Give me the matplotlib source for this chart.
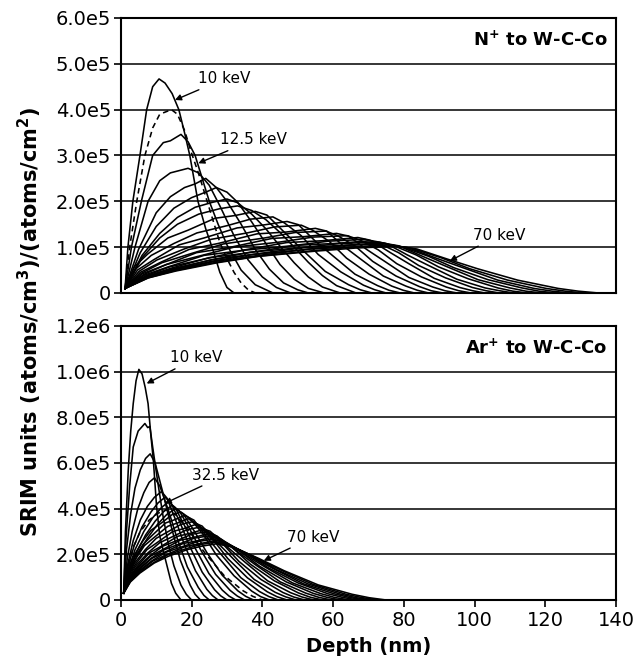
import numpy as np
import matplotlib.pyplot as plt

plt.rcParams['font.family'] = ['DejaVu Sans']
plt.rcParams['mathtext.fontset'] = 'dejavusans'

SCALE = 1e5

# ---- N+ to W-C-Co (values in 1e5 atoms/cm3 per atoms/cm2) ----
n_energy = [10, 12.5, 15, 17.5, 20, 22.5, 25, 27.5, 30, 32.5, 35, 37.5, 40,
            42.5, 45, 47.5, 50, 52.5, 55, 57.5, 60, 62.5, 65, 67.5, 70]
n_dashed = 12.5
n_depth = [
    [1.2, 2, 3.4, 5.4, 7.3, 9, 10.8, 12.5, 14.5, 16.4, 18, 19.5, 21.8, 24, 26, 28, 30, 32],
    [1.2, 2.5, 4.5, 6.8, 9, 11, 14.3, 16, 18, 20, 22, 24, 26, 28, 30, 32, 34, 36, 38],
    [1.2, 3, 5.8, 9, 12, 14, 17, 19, 21, 23, 25, 27.5, 30, 34, 38, 43],
    [1.2, 4, 7.7, 11, 14, 17, 19, 22, 25, 28, 32, 36, 40, 44, 48],
    [1.2, 5, 10, 14, 18, 21, 24, 27, 30, 34, 38, 42, 46, 50, 53],
    [1.2, 5.5, 10, 15, 20, 24, 27, 30, 33, 37, 41, 45, 49, 53, 57.5],
    [1.2, 6, 11, 16, 21, 26, 30, 33, 37, 41, 45, 49, 53, 57, 62],
    [1.2, 6, 11, 16, 22, 28, 33, 37, 41, 45, 49, 53, 57, 61, 66.5],
    [1.2, 3.8, 7.6, 13.3, 19, 26.6, 32.3, 38, 41.3, 46.3, 51.2, 57.8, 64.4, 67.7, 71],
    [1.2, 4.3, 8.6, 15, 21.5, 30.1, 36.6, 43, 46.2, 51, 55.8, 62.2, 68.6, 71.8, 75],
    [1.2, 4.7, 9.4, 16.5, 23.5, 32.9, 40, 47, 50.2, 55, 59.8, 66.2, 72.6, 75.8, 79],
    [1.2, 5.1, 10.2, 17.9, 25.5, 35.7, 43.4, 51, 54.2, 59, 63.8, 70.2, 76.6, 79.8, 83],
    [1.2, 5.5, 11, 19.3, 27.5, 38.5, 46.8, 55, 58.2, 63, 67.8, 74.2, 80.6, 83.8, 87],
    [1.2, 5.8, 11.6, 20.3, 29, 40.6, 49.3, 58, 61.3, 66.3, 71.2, 77.8, 84.4, 87.7, 91],
    [1.2, 6.1, 12.2, 21.4, 30.5, 42.7, 51.9, 61, 64.4, 69.5, 74.6, 81.4, 88.2, 91.6, 95],
    [1.2, 6.4, 12.8, 22.4, 32, 44.8, 54.4, 64, 67.5, 72.8, 78, 85, 92, 95.5, 99],
    [1.2, 6.7, 13.4, 23.5, 33.5, 46.9, 57, 67, 70.6, 76, 81.4, 88.6, 95.8, 99.4, 103],
    [1.2, 6.9, 13.8, 24.2, 34.5, 48.3, 58.7, 69, 72.8, 78.5, 84.2, 91.8, 99.4, 103.2, 107],
    [1.2, 7.1, 14.2, 24.9, 35.5, 49.7, 60.4, 71, 75, 81, 87, 95, 103, 107, 111],
    [1.2, 7.3, 14.6, 25.6, 36.5, 51.1, 62.1, 73, 77.2, 83.5, 89.8, 98.2, 106.6, 110.8, 115],
    [1.2, 7.4, 14.8, 25.9, 37, 51.8, 62.9, 74, 78.5, 85.3, 92, 101, 110, 114.5, 119],
    [1.2, 7.5, 15, 26.3, 37.5, 52.5, 63.8, 75, 79.8, 87, 94.2, 103.8, 113.4, 118.2, 123],
    [1.2, 7.6, 15.2, 26.6, 38, 53.2, 64.6, 76, 81.1, 88.8, 96.4, 106.6, 116.8, 121.9, 127],
    [1.2, 7.7, 15.4, 27, 38.5, 53.9, 65.5, 77, 82.4, 90.5, 98.6, 109.4, 120.2, 125.6, 131],
    [1.2, 7.8, 15.6, 27.3, 39, 54.6, 66.3, 78, 83.7, 92.3, 100.8, 112.2, 123.6, 129.3, 135],
]
n_value = [
    [0.1, 1.0, 2.0, 3.0, 4.0, 4.5, 4.67, 4.58, 4.35, 4.0, 3.5, 3.0, 2.0, 1.4, 0.95, 0.45, 0.12, 0],
    [0.1, 1.0, 2.0, 3.0, 3.6, 3.9, 4.0, 3.9, 3.55, 3.05, 2.6, 2.1, 1.6, 1.1, 0.75, 0.45, 0.22, 0.07, 0],
    [0.1, 1.0, 2.0, 3.0, 3.28, 3.32, 3.46, 3.3, 3.0, 2.5, 2.0, 1.5, 1.05, 0.5, 0.18, 0],
    [0.1, 1.0, 2.0, 2.45, 2.62, 2.68, 2.72, 2.62, 2.35, 1.9, 1.25, 0.72, 0.35, 0.12, 0],
    [0.1, 0.95, 1.75, 2.1, 2.3, 2.38, 2.5, 2.3, 2.0, 1.5, 0.95, 0.52, 0.22, 0.07, 0],
    [0.1, 0.88, 1.45, 1.85, 2.08, 2.2, 2.3, 2.2, 1.98, 1.55, 1.08, 0.62, 0.3, 0.1, 0],
    [0.1, 0.82, 1.3, 1.65, 1.87, 1.98, 2.05, 1.97, 1.72, 1.4, 1.02, 0.66, 0.35, 0.13, 0],
    [0.1, 0.77, 1.2, 1.5, 1.72, 1.84, 1.9, 1.8, 1.6, 1.32, 1.0, 0.67, 0.38, 0.16, 0],
    [0.1, 0.57, 0.85, 1.2, 1.37, 1.63, 1.69, 1.78, 1.7, 1.32, 0.95, 0.47, 0.18, 0.07, 0],
    [0.1, 0.53, 0.82, 1.08, 1.31, 1.47, 1.61, 1.66, 1.53, 1.25, 0.84, 0.46, 0.17, 0.07, 0],
    [0.1, 0.5, 0.73, 1.05, 1.2, 1.42, 1.48, 1.56, 1.49, 1.13, 0.82, 0.41, 0.16, 0.06, 0],
    [0.1, 0.47, 0.72, 0.96, 1.17, 1.31, 1.44, 1.48, 1.37, 1.12, 0.76, 0.41, 0.15, 0.06, 0],
    [0.1, 0.45, 0.66, 0.95, 1.08, 1.29, 1.33, 1.41, 1.35, 1.02, 0.74, 0.37, 0.15, 0.06, 0],
    [0.1, 0.43, 0.66, 0.87, 1.07, 1.2, 1.32, 1.35, 1.25, 1.02, 0.69, 0.37, 0.14, 0.05, 0],
    [0.1, 0.42, 0.6, 0.88, 0.99, 1.19, 1.23, 1.3, 1.24, 0.95, 0.69, 0.34, 0.13, 0.05, 0],
    [0.1, 0.4, 0.62, 0.81, 1.0, 1.11, 1.22, 1.25, 1.16, 0.94, 0.64, 0.35, 0.13, 0.05, 0],
    [0.1, 0.39, 0.57, 0.82, 0.92, 1.1, 1.14, 1.21, 1.15, 0.89, 0.64, 0.32, 0.12, 0.05, 0],
    [0.1, 0.37, 0.57, 0.75, 0.93, 1.03, 1.13, 1.17, 1.09, 0.88, 0.6, 0.33, 0.12, 0.05, 0],
    [0.1, 0.36, 0.54, 0.77, 0.87, 1.04, 1.08, 1.14, 1.08, 0.83, 0.6, 0.3, 0.11, 0.05, 0],
    [0.1, 0.36, 0.53, 0.72, 0.89, 0.99, 1.08, 1.11, 1.03, 0.83, 0.57, 0.31, 0.11, 0.04, 0],
    [0.1, 0.35, 0.52, 0.73, 0.84, 0.99, 1.04, 1.09, 1.03, 0.8, 0.58, 0.29, 0.11, 0.04, 0],
    [0.1, 0.34, 0.51, 0.7, 0.84, 0.95, 1.04, 1.07, 1.0, 0.8, 0.55, 0.29, 0.11, 0.04, 0],
    [0.1, 0.34, 0.5, 0.69, 0.81, 0.96, 1.0, 1.05, 0.99, 0.77, 0.56, 0.28, 0.1, 0.04, 0],
    [0.1, 0.33, 0.49, 0.67, 0.8, 0.92, 1.0, 1.03, 0.97, 0.77, 0.53, 0.28, 0.1, 0.04, 0],
    [0.1, 0.33, 0.48, 0.66, 0.8, 0.91, 0.98, 1.02, 0.96, 0.74, 0.53, 0.28, 0.1, 0.04, 0],
]

# ---- Ar+ to W-C-Co ----
ar_energy = n_energy
ar_dashed = 32.5
ar_depth = [
    [0.8, 1.3, 2.1, 2.8, 3.5, 4.3, 5.1, 6, 6.9, 7.7, 8.5, 9.2, 10.1, 11, 12.4, 14.3, 15.5, 17],
    [0.8, 1.5, 2.5, 3.5, 4.9, 6.8, 7.6, 8.2, 9, 10.5, 12, 13.5, 15, 17, 18.5, 20],
    [0.8, 1.6, 2.8, 4, 5.5, 7, 8.3, 9.7, 11.8, 14, 16.8, 19.6, 21, 22.5],
    [0.8, 1.8, 3.2, 4.8, 6.5, 8, 9.5, 11, 13.4, 15.7, 18.8, 21.9, 23.5, 25],
    [0.8, 2, 3.5, 5.5, 7.5, 9.5, 11.5, 13.1, 15.5, 17.9, 21.1, 24.3, 25.9, 27.5],
    [0.8, 2, 3.8, 6, 8.5, 10.5, 12.5, 14.25, 16.9, 19.5, 23, 26.5, 28.25, 30],
    [0.8, 2.2, 4, 6.5, 9, 11.5, 13.5, 15.4, 18.25, 21.1, 24.9, 28.7, 30.6, 32.5],
    [0.8, 2.3, 4.3, 7, 9.7, 12.3, 14.5, 16.55, 19.6, 22.7, 26.8, 30.9, 32.95, 35],
    [0.8, 2.4, 4.6, 7.5, 10.3, 13, 15.5, 17.7, 21, 24.3, 28.7, 33.1, 35.3, 37.5],
    [0.8, 1.8, 3.5, 5.5, 8, 10.5, 13, 15.7, 19.75, 23.8, 29.2, 34.6, 37.3, 40],
    [0.8, 1.7, 3.4, 6, 8.5, 11.9, 14.5, 17, 19.5, 23.25, 27, 32, 37, 39.5, 42],
    [0.8, 1.8, 3.6, 6.3, 9, 12.6, 15.3, 18, 20.65, 24.6, 28.6, 33.9, 39.2, 41.85, 44.5],
    [0.8, 1.9, 3.8, 6.65, 9.5, 13.3, 16.15, 19, 21.8, 26, 30.2, 35.8, 41.4, 44.2, 47],
    [0.8, 2, 4, 7, 10, 14, 17, 20, 22.95, 27.4, 31.8, 37.7, 43.6, 46.55, 49.5],
    [0.8, 2.1, 4.2, 7.35, 10.5, 14.7, 17.85, 21, 24.1, 28.75, 33.4, 39.6, 45.8, 48.9, 52],
    [0.8, 2.2, 4.4, 7.7, 11, 15.4, 18.7, 22, 25.25, 30.1, 35, 41.5, 48, 51.25, 54.5],
    [0.8, 2.3, 4.6, 8.05, 11.5, 16.1, 19.55, 23, 26.4, 31.5, 36.6, 43.4, 50.2, 53.6, 57],
    [0.8, 2.35, 4.7, 8.2, 11.75, 16.45, 20, 23.5, 27.1, 32.5, 37.9, 45.1, 52.3, 55.9, 59.5],
    [0.8, 2.4, 4.8, 8.4, 12, 16.8, 20.4, 24, 27.8, 33.5, 39.2, 46.8, 54.4, 58.2, 62],
    [0.8, 2.45, 4.9, 8.6, 12.25, 17.15, 20.8, 24.5, 28.5, 34.5, 40.5, 48.5, 56.5, 60.5, 64.5],
    [0.8, 2.5, 5, 8.75, 12.5, 17.5, 21.25, 25, 29.2, 35.5, 41.8, 50.2, 58.6, 62.8, 67],
    [0.8, 2.55, 5.1, 8.9, 12.75, 17.85, 21.7, 25.5, 29.85, 36.4, 42.9, 51.6, 60.3, 64.65, 69],
    [0.8, 2.6, 5.2, 9.1, 13, 18.2, 22.1, 26, 30.5, 37.25, 44, 53, 62, 66.5, 71],
    [0.8, 2.65, 5.3, 9.3, 13.25, 18.55, 22.5, 26.5, 31.15, 38.1, 45.1, 54.4, 63.7, 68.35, 73],
    [0.8, 2.7, 5.4, 9.45, 13.5, 18.9, 22.95, 27, 31.8, 39, 46.2, 55.8, 65.4, 70.2, 75],
]
ar_value = [
    [0.3, 3.0, 5.7, 7.4, 8.6, 9.6, 10.1, 9.9, 9.3, 8.6, 7.2, 6.1, 4.1, 2.8, 1.9, 0.73, 0.3, 0],
    [0.3, 2.8, 5.0, 6.7, 7.4, 7.73, 7.55, 7.6, 6.7, 5.1, 3.6, 2.4, 1.5, 0.65, 0.25, 0],
    [0.3, 2.2, 3.8, 4.9, 5.7, 6.2, 6.4, 6.0, 4.75, 3.35, 1.75, 0.65, 0.25, 0],
    [0.3, 1.8, 3.0, 4.0, 4.7, 5.15, 5.35, 5.0, 3.95, 2.8, 1.45, 0.55, 0.2, 0],
    [0.3, 1.6, 2.6, 3.5, 4.1, 4.5, 4.75, 4.45, 3.5, 2.45, 1.28, 0.47, 0.19, 0],
    [0.3, 1.45, 2.4, 3.2, 3.85, 4.25, 4.5, 4.23, 3.33, 2.34, 1.22, 0.45, 0.18, 0],
    [0.3, 1.35, 2.2, 3.0, 3.6, 4.05, 4.3, 4.04, 3.18, 2.24, 1.16, 0.43, 0.17, 0],
    [0.3, 1.25, 2.05, 2.85, 3.45, 3.9, 4.15, 3.9, 3.07, 2.16, 1.12, 0.42, 0.17, 0],
    [0.3, 1.18, 1.95, 2.7, 3.3, 3.75, 4.0, 3.76, 2.96, 2.08, 1.08, 0.4, 0.16, 0],
    [0.3, 1.3, 2.3, 3.0, 3.5, 3.8, 3.95, 3.71, 2.92, 2.05, 1.07, 0.4, 0.16, 0],
    [0.3, 1.23, 1.85, 2.54, 3.05, 3.42, 3.74, 3.85, 3.58, 2.88, 1.97, 1.06, 0.39, 0.15, 0],
    [0.3, 1.18, 1.78, 2.44, 2.85, 3.37, 3.52, 3.7, 3.5, 2.7, 1.95, 0.98, 0.37, 0.15, 0],
    [0.3, 1.14, 1.71, 2.38, 2.75, 3.23, 3.38, 3.56, 3.31, 2.66, 1.82, 0.97, 0.36, 0.14, 0],
    [0.3, 1.09, 1.64, 2.22, 2.7, 3.05, 3.31, 3.42, 3.24, 2.5, 1.8, 0.9, 0.34, 0.14, 0],
    [0.3, 1.06, 1.58, 2.2, 2.54, 3.0, 3.13, 3.3, 3.07, 2.47, 1.69, 0.9, 0.33, 0.13, 0],
    [0.3, 1.02, 1.53, 2.07, 2.51, 2.83, 3.08, 3.18, 3.01, 2.32, 1.67, 0.84, 0.32, 0.13, 0],
    [0.3, 0.98, 1.47, 2.06, 2.36, 2.79, 2.92, 3.07, 2.86, 2.3, 1.57, 0.84, 0.31, 0.12, 0],
    [0.3, 0.95, 1.43, 1.93, 2.35, 2.64, 2.88, 2.97, 2.81, 2.17, 1.56, 0.79, 0.3, 0.12, 0],
    [0.3, 0.92, 1.38, 1.92, 2.22, 2.62, 2.73, 2.88, 2.68, 2.15, 1.48, 0.79, 0.29, 0.12, 0],
    [0.3, 0.9, 1.34, 1.83, 2.2, 2.49, 2.71, 2.8, 2.65, 2.05, 1.47, 0.75, 0.28, 0.11, 0],
    [0.3, 0.87, 1.31, 1.82, 2.1, 2.47, 2.58, 2.72, 2.53, 2.03, 1.4, 0.74, 0.27, 0.11, 0],
    [0.3, 0.85, 1.27, 1.73, 2.09, 2.36, 2.56, 2.65, 2.51, 1.94, 1.39, 0.71, 0.27, 0.11, 0],
    [0.3, 0.83, 1.24, 1.71, 1.99, 2.34, 2.46, 2.58, 2.41, 1.93, 1.33, 0.7, 0.26, 0.1, 0],
    [0.3, 0.81, 1.21, 1.64, 1.98, 2.25, 2.43, 2.52, 2.38, 1.85, 1.32, 0.68, 0.25, 0.1, 0],
    [0.3, 0.79, 1.18, 1.62, 1.92, 2.21, 2.36, 2.46, 2.31, 1.82, 1.28, 0.66, 0.25, 0.1, 0],
]

x_ticks = [0, 20, 40, 60, 80, 100, 120, 140]
n_yticks = [0, 1e5, 2e5, 3e5, 4e5, 5e5, 6e5]
n_ylabels = ['0', '1.0e5', '2.0e5', '3.0e5', '4.0e5', '5.0e5', '6.0e5']
ar_yticks = [0, 2e5, 4e5, 6e5, 8e5, 1e6, 1.2e6]
ar_ylabels = ['0', '2.0e5', '4.0e5', '6.0e5', '8.0e5', '1.0e6', '1.2e6']


def draw_panel(ax, energy, depth, value, dashed, yticks, ylabels, title):
    for e, d, v in zip(energy, depth, value):
        ls = (0, (3.5, 2.5)) if e == dashed else '-'
        ax.plot(d, np.array(v) * SCALE, color='black', lw=1.15, ls=ls)
    ax.set_xlim(0, 140)
    ax.set_ylim(0, yticks[-1])
    ax.set_yticks(yticks)
    ax.set_yticklabels(ylabels)
    ax.set_xticks(x_ticks)
    for y in yticks[1:-1]:
        ax.axhline(y, color='black', lw=1.1, zorder=0)
    for s in ax.spines.values():
        s.set_linewidth(1.5)
    ax.tick_params(axis='y', direction='out', length=5, width=1.2, labelsize=14, pad=2)
    ax.tick_params(axis='x', direction='out', length=5, width=1.2, labelsize=14, pad=3)
    ax.text(137.5, yticks[-1] * 0.918, title, ha='right', va='center',
            fontsize=13, fontweight='bold')


fig = plt.figure(figsize=(6.36, 6.68), dpi=100)
ax1 = fig.add_axes([0.190, 0.5614, 0.7786, 0.4117])
ax2 = fig.add_axes([0.190, 0.1018, 0.7786, 0.4102])

draw_panel(ax1, n_energy, n_depth, n_value, n_dashed, n_yticks, n_ylabels,
           r'N$^{\mathbf{+}}$ to W-C-Co')
draw_panel(ax2, ar_energy, ar_depth, ar_value, ar_dashed, ar_yticks, ar_ylabels,
           r'Ar$^{\mathbf{+}}$ to W-C-Co')
ax1.tick_params(axis='x', length=0, labelbottom=False)

arrow = dict(arrowstyle='-|>', color='black', lw=1, mutation_scale=9,
             shrinkA=1, shrinkB=0)
ax1.annotate('10 keV', xy=(15.3, 4.21e5), xytext=(21.8, 4.67e5), fontsize=11,
             va='center', arrowprops=arrow)
ax1.annotate('12.5 keV', xy=(21.9, 2.83e5), xytext=(28, 3.34e5), fontsize=11,
             va='center', arrowprops=arrow)
ax1.annotate('70 keV', xy=(93, 0.7e5), xytext=(99.6, 1.26e5), fontsize=11,
             va='center', arrowprops=arrow)
ax2.annotate('10 keV', xy=(7.3, 9.48e5), xytext=(13.9, 10.6e5), fontsize=11,
             va='center', arrowprops=arrow)
ax2.annotate('32.5 keV', xy=(12.4, 4.23e5), xytext=(20, 5.47e5), fontsize=11,
             va='center', arrowprops=arrow)
ax2.annotate('70 keV', xy=(40.4, 1.72e5), xytext=(46.9, 2.75e5), fontsize=11,
             va='center', arrowprops=arrow)

ax2.set_xlabel('Depth (nm)', fontsize=14, fontweight='bold', labelpad=5)
fig.text(0.047, 0.518, r'SRIM units (atoms/cm$^{\mathbf{3}}$)/(atoms/cm$^{\mathbf{2}}$)',
         rotation=90, ha='center', va='center', fontsize=15, fontweight='bold')

fig.savefig('out.png', dpi=100)
